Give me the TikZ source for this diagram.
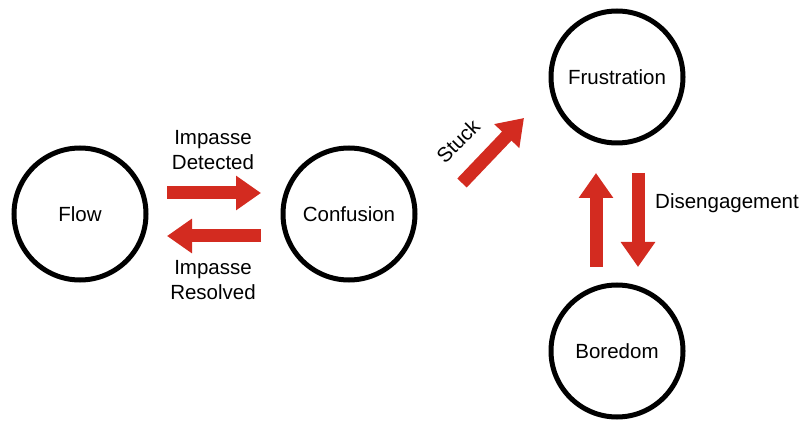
\documentclass[tikz,border=0pt]{standalone}
\usepackage{fontspec}
\setmainfont{Liberation Sans}
\usetikzlibrary{arrows.meta}
\definecolor{arrowred}{RGB}{211,43,32}
\tikzset{
  state/.style={circle, draw=black, line width=5pt, minimum size=132pt, inner sep=0pt,
    font=\fontsize{20.5}{24}\selectfont},
  bigarrow/.style={draw=arrowred, line width=13pt,
    -{Triangle[width=33pt, length=25pt]}},
  lbl/.style={font=\fontsize{20.5}{25}\selectfont, align=center, inner sep=0pt}
}
\begin{document}
\begin{tikzpicture}[x=1pt, y=-1pt]
  \useasboundingbox (0,0) rectangle (804,422);

  % affective states
  \node[state] (flow) at (80,214) {Flow};
  \node[state] (confusion) at (349,214) {Confusion};
  \node[state] (frustration) at (617,77) {Frustration};
  \node[state] (boredom) at (617,351) {Boredom};

  % arrow end points
  \coordinate (detA) at (167,193);
  \coordinate (detB) at (261,193);
  \coordinate (resA) at (261,236);
  \coordinate (resB) at (167,236);
  \coordinate (stuckA) at (462,183);
  \coordinate (stuckB) at (524,118);
  \coordinate (upA) at (596,267);
  \coordinate (upB) at (596,173);
  \coordinate (downA) at (638,173);
  \coordinate (downB) at (638,267);

  % transitions
  \draw[bigarrow] (detA) -- (detB);
  \draw[bigarrow] (resA) -- (resB);
  \draw[bigarrow] (stuckA) -- (stuckB);
  \draw[bigarrow] (upA) -- (upB);
  \draw[bigarrow] (downA) -- (downB);

  % transition labels
  \node[lbl] (detected) at (213,150) {Impasse\\Detected};
  \node[lbl] (resolved) at (213,280) {Impasse\\Resolved};
  \node[lbl, rotate=45] (stuck) at (458,141) {Stuck};
  \node[lbl, anchor=west] (diseng) at (655,203) {Disengagement};
\end{tikzpicture}
\end{document}
